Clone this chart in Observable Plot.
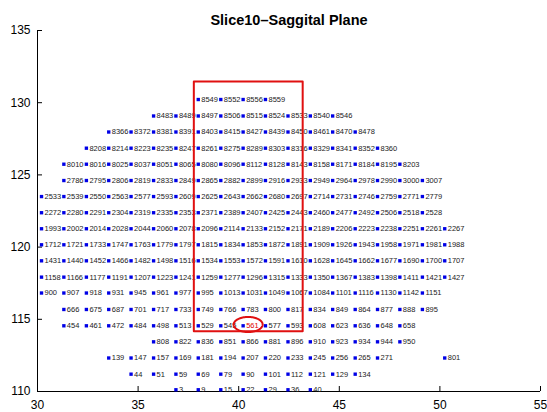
<!DOCTYPE html>
<html><head><meta charset="utf-8">
<script src="https://cdn.jsdelivr.net/npm/d3@7"></script>
<script src="https://cdn.jsdelivr.net/npm/@observablehq/plot@0.6"></script>
<style>body{margin:0;background:#fff}</style>
</head><body><div id="chart"></div>
<script>
const title = "Slice10–Saggital Plane";
const xTicks = [30, 35, 40, 45, 50, 55];
const yTicks = [110, 115, 120, 125, 130, 135];
// grid column positions (x) and row positions (y)
const colX = [30.20, 31.31, 32.43, 33.54, 34.65, 35.77, 36.88, 37.99, 39.11, 40.22, 41.33, 42.45, 43.56, 44.67, 45.79, 46.90, 48.01, 49.13, 50.24];
const rowY = [130.22, 129.08, 127.97, 126.85, 125.74, 124.61, 123.50, 122.38, 121.27, 120.16, 119.05, 117.92, 116.82, 115.68, 114.55, 113.44, 112.32, 111.20, 110.12];
const rowStart = [7, 5, 3, 2, 1, 1, 0, 0, 0, 0, 0, 0, 0, 1, 1, 5, 3, 4, 6];
const rowLabels = [
  [8549, 8552, 8556, 8559],
  [8483, 8489, 8497, 8506, 8515, 8524, 8533, 8540, 8546],
  [8366, 8372, 8381, 8391, 8403, 8415, 8427, 8439, 8450, 8461, 8470, 8478],
  [8208, 8214, 8223, 8235, 8247, 8261, 8275, 8289, 8303, 8316, 8329, 8341, 8352, 8360],
  [8010, 8016, 8025, 8037, 8051, 8065, 8080, 8096, 8112, 8128, 8143, 8158, 8171, 8184, 8195, 8203],
  [2786, 2795, 2806, 2819, 2833, 2849, 2865, 2882, 2899, 2916, 2933, 2949, 2964, 2978, 2990, 3000, 3007],
  [2533, 2539, 2550, 2563, 2577, 2593, 2609, 2625, 2643, 2662, 2680, 2697, 2714, 2731, 2746, 2759, 2771, 2779],
  [2272, 2280, 2291, 2304, 2319, 2335, 2353, 2371, 2389, 2407, 2425, 2443, 2460, 2477, 2492, 2506, 2518, 2528],
  [1993, 2002, 2014, 2028, 2044, 2060, 2078, 2096, 2114, 2133, 2152, 2171, 2189, 2206, 2223, 2238, 2251, 2261, 2267],
  [1712, 1721, 1733, 1747, 1763, 1779, 1797, 1815, 1834, 1853, 1872, 1891, 1909, 1926, 1943, 1958, 1971, 1981, 1988],
  [1431, 1440, 1452, 1466, 1482, 1498, 1516, 1534, 1553, 1572, 1591, 1610, 1628, 1645, 1662, 1677, 1690, 1700, 1707],
  [1158, 1166, 1177, 1191, 1207, 1223, 1241, 1259, 1277, 1296, 1315, 1333, 1350, 1367, 1383, 1398, 1411, 1421, 1427],
  [900, 907, 918, 931, 945, 961, 977, 995, 1013, 1031, 1049, 1067, 1084, 1101, 1116, 1130, 1142, 1151],
  [666, 675, 687, 701, 717, 733, 749, 766, 783, 800, 817, 834, 849, 864, 877, 888, 895],
  [454, 461, 472, 484, 498, 513, 529, 545, 561, 577, 593, 608, 623, 636, 648, 658],
  [808, 822, 836, 851, 866, 881, 896, 910, 923, 934, 944, 950],
  [139, 147, 157, 169, 181, 194, 207, 220, 233, 245, 256, 265, 271, null, null, 801],
  [44, 51, 59, 69, 79, 90, 101, 112, 121, 129, 134],
  [3, 9, 15, 22, 29, 36, 40]
];
const highlight = "561";
const boxX = [37.77, 43.18];
const boxY = [114.18, 131.47];
const ringCenter = [40.47, 114.64];
const ringRadius = [0.72, 0.52];

const points = [];
rowLabels.forEach((labels, r) => labels.forEach((lab, i) => {
  if (lab != null) points.push({x: colX[rowStart[r] + i], y: rowY[r], label: String(lab)});
}));
const boxPath = [
  {x: boxX[0], y: boxY[0]}, {x: boxX[1], y: boxY[0]}, {x: boxX[1], y: boxY[1]},
  {x: boxX[0], y: boxY[1]}, {x: boxX[0], y: boxY[0]}
];
const ring = d3.range(0, 361, 4).map(a => ({
  x: ringCenter[0] + ringRadius[0] * Math.cos(a * Math.PI / 180),
  y: ringCenter[1] + ringRadius[1] * Math.sin(a * Math.PI / 180)
}));
const tickLenX = 5 / 14.44, tickLenY = 5 / 20.12;
const font = "'Liberation Sans', Arial, Helvetica, sans-serif";

const chart = Plot.plot({
  width: 547, height: 412,
  marginLeft: 37, marginRight: 7, marginTop: 30, marginBottom: 21,
  style: {fontFamily: font, background: "#fff"},
  x: {domain: [30, 55], label: null},
  y: {domain: [110, 135], label: null},
  marks: [
    Plot.axisX({ticks: xTicks, tickSize: 0, tickPadding: 9, fontSize: 12, fill: "#000", label: null, tickFormat: d => String(d)}),
    Plot.axisY({ticks: yTicks, tickSize: 0, tickPadding: 7, fontSize: 12, fill: "#000", label: null, tickFormat: d => String(d)}),
    Plot.ruleX(xTicks, {x: d => d, y1: 110, y2: 110 + tickLenX, stroke: "#000"}),
    Plot.ruleY(yTicks, {y: d => d, x1: 30, x2: 30 + tickLenY, stroke: "#000"}),
    Plot.ruleY([110], {x1: 30, x2: 55, stroke: "#000"}),
    Plot.ruleX([30], {y1: 110, y2: 135, stroke: "#000"}),
    Plot.dot(points, {x: "x", y: "y", symbol: "square", r: 1.9, fill: "#0000e6", stroke: "none"}),
    Plot.text(points.filter(d => d.label !== highlight), {x: "x", y: "y", text: "label", dx: 3, textAnchor: "start", fontSize: 7.5, fill: "#222"}),
    Plot.text(points.filter(d => d.label === highlight), {x: "x", y: "y", text: "label", dx: 3, textAnchor: "start", fontSize: 7.5, fill: "#e00000"}),
    Plot.line(boxPath, {x: "x", y: "y", stroke: "#e01010", strokeWidth: 2}),
    Plot.line(ring, {x: "x", y: "y", stroke: "#e01010", strokeWidth: 2}),
    Plot.text([title], {frameAnchor: "top", dy: -16, fontSize: 14.5, fontWeight: "bold", fill: "#000"})
  ]
});
document.getElementById("chart").appendChild(chart);
</script>
</body></html>
